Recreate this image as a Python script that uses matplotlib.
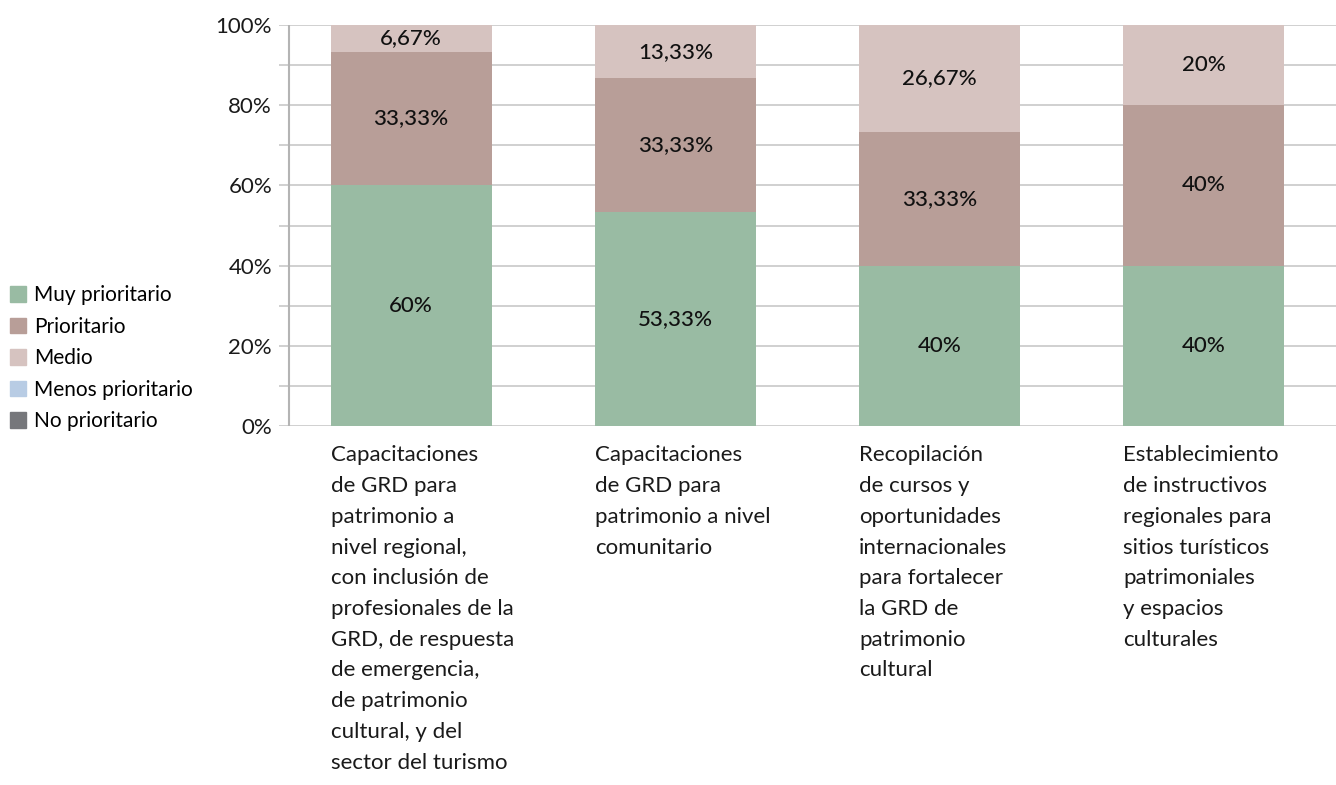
import matplotlib.pyplot as plt
from matplotlib.patches import Patch

plt.rcParams['font.family'] = ['Lato', 'DejaVu Sans']

categories = [
    'Capacitaciones\nde GRD para\npatrimonio a\nnivel regional,\ncon inclusión de\nprofesionales de la\nGRD, de respuesta\nde emergencia,\nde patrimonio\ncultural, y del\nsector del turismo',
    'Capacitaciones\nde GRD para\npatrimonio a nivel\ncomunitario',
    'Recopilación\nde cursos y\noportunidades\ninternacionales\npara fortalecer\nla GRD de\npatrimonio\ncultural',
    'Establecimiento\nde instructivos\nregionales para\nsitios turísticos\npatrimoniales\ny espacios\nculturales',
]
series_names = ['Muy prioritario', 'Prioritario', 'Medio', 'Menos prioritario', 'No prioritario']
muy_prioritario = [60, 53.33, 40, 40]
prioritario = [33.33, 33.33, 33.33, 40]
medio = [6.67, 13.33, 26.67, 20]
menos_prioritario = [0, 0, 0, 0]
no_prioritario = [0, 0, 0, 0]
labels = [
    ['60%', '53,33%', '40%', '40%'],
    ['33,33%', '33,33%', '33,33%', '40%'],
    ['6,67%', '13,33%', '26,67%', '20%'],
]
colors = ['#99bba3', '#b89e98', '#d6c3c0', '#b8cce4', '#76777b']

fig = plt.figure(figsize=(13.36, 7.85), dpi=100)
ax = fig.add_axes([279 / 1336, 1 - 426 / 785, (1336 - 279) / 1336, (426 - 25) / 785])

x = list(range(len(categories)))
width = 0.61
bottom = [0] * 4
all_series = [muy_prioritario, prioritario, medio, menos_prioritario, no_prioritario]
for k, vals in enumerate(all_series):
    ax.bar(x, vals, width, bottom=bottom, color=colors[k], zorder=2)
    if k < 3:
        for i, v in enumerate(vals):
            ax.text(i, bottom[i] + v / 2, labels[k][i], ha='center', va='center',
                    fontsize=16, fontweight='medium', color='#111111', zorder=3)
    bottom = [b + v for b, v in zip(bottom, vals)]

ax.set_xlim(-0.5, 3.5)
ax.set_ylim(0, 100)
for g in range(0, 101, 10):
    ax.axhline(g, color='#c8c8c8', lw=1.2, zorder=1)
ax.axvline(-0.5 + 10 / 264, color='#b4b4b4', lw=1.5, zorder=1)
for s in ax.spines.values():
    s.set_visible(False)
ax.set_yticks(range(0, 101, 20))
ax.set_yticklabels([f'{v}%' for v in range(0, 101, 20)], fontsize=16, color='#1a1a1a')
ax.tick_params(axis='y', length=0, pad=5)
ax.set_xticks([])

for i, cat in enumerate(categories):
    ax.annotate(cat, xy=(i - width / 2, 0), xycoords=('data', 'axes fraction'),
                xytext=(0, -14), textcoords='offset points', ha='left', va='top',
                fontsize=16, color='#1a1a1a', linespacing=1.67, annotation_clip=False)

handles = [Patch(color=c) for c in colors]
fig.legend(handles, series_names, loc='upper left', bbox_to_anchor=(2 / 1336, 1 - 277 / 785),
           frameon=False, fontsize=15, handlelength=0.75, handleheight=0.75,
           handletextpad=0.4, labelspacing=0.55, borderaxespad=0)

fig.savefig('out.png', dpi=100)
